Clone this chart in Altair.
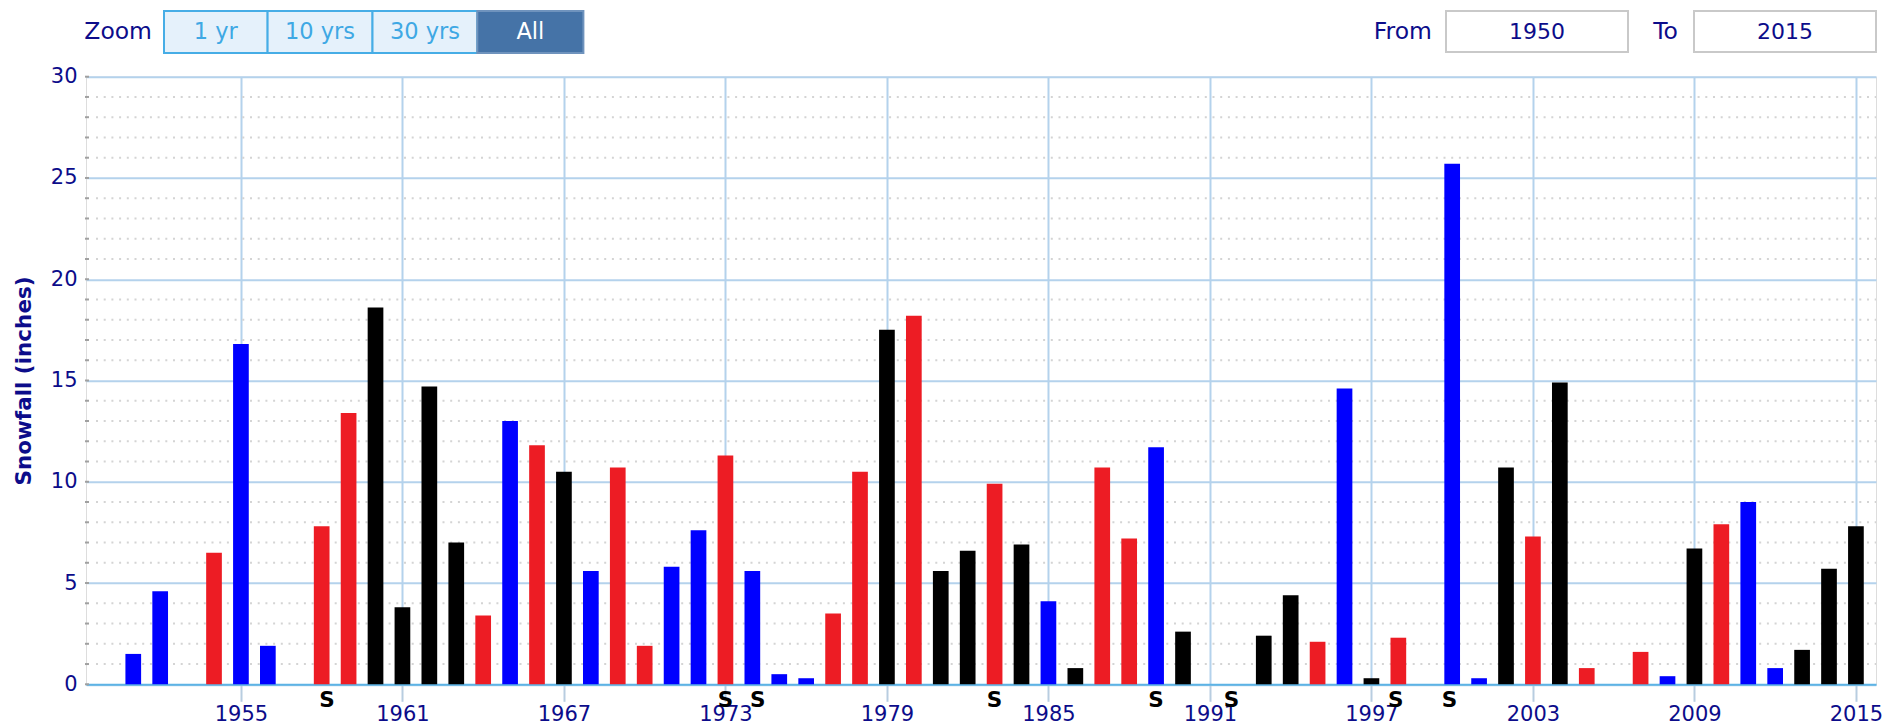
import altair as alt
import pandas as pd

# ---------------- data ----------------
years = [1951, 1952, 1954, 1955, 1956, 1958, 1959, 1960, 1961, 1962, 1963, 1964,
         1965, 1966, 1967, 1968, 1969, 1970, 1971, 1972, 1973, 1974, 1975, 1976,
         1977, 1978, 1979, 1980, 1981, 1982, 1983, 1984, 1985, 1986, 1987, 1988,
         1989, 1990, 1993, 1994, 1995, 1996, 1997, 1998, 2000, 2001, 2002, 2003,
         2004, 2005, 2007, 2008, 2009, 2010, 2011, 2012, 2013, 2014, 2015]
snowfall = [1.5, 4.6, 6.5, 16.8, 1.9, 7.8, 13.4, 18.6, 3.8, 14.7, 7.0, 3.4,
            13.0, 11.8, 10.5, 5.6, 10.7, 1.9, 5.8, 7.6, 11.3, 5.6, 0.5, 0.3,
            3.5, 10.5, 17.5, 18.2, 5.6, 6.6, 9.9, 6.9, 4.1, 0.8, 10.7, 7.2,
            11.7, 2.6, 2.4, 4.4, 2.1, 14.6, 0.3, 2.3, 25.7, 0.3, 10.7, 7.3,
            14.9, 0.8, 1.6, 0.4, 6.7, 7.9, 9.0, 0.8, 1.7, 5.7, 7.8]
phase = ["La Nina", "La Nina", "El Nino", "La Nina", "La Nina", "El Nino", "El Nino",
         "Neutral", "Neutral", "Neutral", "Neutral", "El Nino", "La Nina", "El Nino",
         "Neutral", "La Nina", "El Nino", "El Nino", "La Nina", "La Nina", "El Nino",
         "La Nina", "La Nina", "La Nina", "El Nino", "El Nino", "Neutral", "El Nino",
         "Neutral", "Neutral", "El Nino", "Neutral", "La Nina", "Neutral", "El Nino",
         "El Nino", "La Nina", "Neutral", "Neutral", "Neutral", "El Nino", "La Nina",
         "Neutral", "El Nino", "La Nina", "La Nina", "Neutral", "El Nino", "Neutral",
         "El Nino", "El Nino", "La Nina", "Neutral", "El Nino", "La Nina", "La Nina",
         "Neutral", "Neutral", "Neutral"]
s_years = [1958.2, 1973.0, 1974.2, 1983.0, 1989.0, 1991.8, 1997.9, 1999.9]
s_labels = ["S", "S", "S", "S", "S", "S", "S", "S"]

x_ticks = [1955, 1961, 1967, 1973, 1979, 1985, 1991, 1997, 2003, 2009, 2015]
y_ticks = [0, 5, 10, 15, 20, 25, 30]
y_minor = [1, 2, 3, 4, 6, 7, 8, 9, 11, 12, 13, 14, 16, 17, 18, 19,
           21, 22, 23, 24, 26, 27, 28, 29]
y_all = [0, 1, 2, 3, 4, 5, 6, 7, 8, 9, 10, 11, 12, 13, 14, 15, 16, 17, 18, 19,
         20, 21, 22, 23, 24, 25, 26, 27, 28, 29, 30]

phase_names = ["La Nina", "El Nino", "Neutral"]
phase_colors = ["#0000FF", "#ED1C24", "#000000"]

zoom_buttons = ["1 yr", "10 yrs", "30 yrs", "All"]
range_from = "1950"
range_to = "2015"

# ---------------- layout ----------------
W = 1790
H = 607.6
FONT = "DejaVu Sans"
NAVY = "#0c0c8a"
AX_FS = 21

bars_df = pd.DataFrame({"year": years, "snow": snowfall, "phase": phase})
s_df = pd.DataFrame({"year": s_years, "label": s_labels})
minor_df = pd.DataFrame({"v": y_minor})
all_df = pd.DataFrame({"v": y_all})
one = pd.DataFrame({"a": [0]})

xscale = alt.Scale(domain=[1949.43, 2015.56], nice=False, zero=False)
yscale = alt.Scale(domain=[0, 30], nice=False)

x_axis = alt.Axis(values=x_ticks, format="d", grid=True,
                  gridColor="#b4d2ec", gridWidth=2,
                  domainColor="#5db3e5", domainWidth=2,
                  tickColor="#b8cde0", tickWidth=2, tickSize=17,
                  labelPadding=2.5, labelFont=FONT, labelFontSize=AX_FS,
                  labelColor=NAVY, labelFlush=20, labelFlushOffset=20,
                  title=None)
y_axis = alt.Axis(values=y_ticks, grid=True, gridColor="#b4d2ec",
                  gridWidth=2, domain=False, ticks=False,
                  labelPadding=9, labelFont=FONT, labelFontSize=AX_FS,
                  labelColor=NAVY,
                  title="Snowfall (inches)", titleFont=FONT,
                  titleFontSize=21.5, titleFontWeight="bold",
                  titleColor=NAVY, titleAngle=270,
                  titleAlign="center", titleBaseline="middle",
                  titleX=-62, titleY=H / 2)

minor_grid = alt.Chart(minor_df).mark_rule(
    color="#d4d4d4", strokeWidth=2, strokeDash=[2, 5.7]
).encode(
    y=alt.Y("v:Q", scale=yscale, axis=y_axis),
    x=alt.value(10), x2=alt.value(W),
)

minor_ticks = alt.Chart(all_df).mark_rule(color="#a0a0a0", strokeWidth=2).encode(
    y=alt.Y("v:Q", scale=yscale, axis=y_axis),
    x=alt.value(-1), x2=alt.value(3),
)

bars = alt.Chart(bars_df).mark_bar(width=15.7).encode(
    x=alt.X("year:Q", scale=xscale, axis=x_axis),
    y=alt.Y("snow:Q", scale=yscale, axis=y_axis),
    color=alt.Color("phase:N", scale=alt.Scale(domain=phase_names, range=phase_colors),
                    legend=None),
)

s_marks = alt.Chart(s_df).mark_text(
    font=FONT, fontSize=21.5, fontWeight="bold", color="black",
    baseline="alphabetic", align="center"
).encode(
    x=alt.X("year:Q", scale=xscale, axis=x_axis),
    y=alt.value(H + 23),
    text="label:N",
)

# ---------------- range selector UI ----------------
ui = []
btn_edges = [78, 181.6, 286.5, 391.3, 497.4]
BY1, BY2 = -65.7, -23.7
TEXT_BASE = -37.4
UI_FS = 23.5
BTN_FS = 22.5
ui.append(alt.Chart(one).mark_text(font=FONT, fontSize=UI_FS, color=NAVY,
                                    align="right", baseline="alphabetic").encode(
    x=alt.value(66), y=alt.value(TEXT_BASE), text=alt.value("Zoom")))
for i, lab in enumerate(zoom_buttons):
    sel = lab == "All"
    ui.append(alt.Chart(one).mark_rect(
        fill="#4573a7" if sel else "#e5f1fb",
        stroke="#6f93bd" if sel else "#46ade6", strokeWidth=2).encode(
        x=alt.value(btn_edges[i]), x2=alt.value(btn_edges[i + 1]),
        y=alt.value(BY1), y2=alt.value(BY2)))
    ui.append(alt.Chart(one).mark_text(
        font=FONT, fontSize=BTN_FS, color="white" if sel else "#3ea8e4",
        align="center", baseline="alphabetic").encode(
        x=alt.value((btn_edges[i] + btn_edges[i + 1]) / 2),
        y=alt.value(TEXT_BASE), text=alt.value(lab)))

for lab, tx, bx1, bx2, val in [("From", 1346, 1360, 1542, range_from),
                               ("To", 1592, 1608, 1790, range_to)]:
    ui.append(alt.Chart(one).mark_text(font=FONT, fontSize=UI_FS, color=NAVY,
                                        align="right", baseline="alphabetic").encode(
        x=alt.value(tx), y=alt.value(TEXT_BASE), text=alt.value(lab)))
    ui.append(alt.Chart(one).mark_rect(fill="white", stroke="#c9c9c9", strokeWidth=2).encode(
        x=alt.value(bx1), x2=alt.value(bx2), y=alt.value(-65.7), y2=alt.value(-24.7)))
    ui.append(alt.Chart(one).mark_text(font=FONT, fontSize=22, color=NAVY,
                                        align="center", baseline="alphabetic").encode(
        x=alt.value((bx1 + bx2) / 2), y=alt.value(TEXT_BASE), text=alt.value(val)))

chart = alt.layer(minor_grid, minor_ticks, bars, s_marks, *ui).properties(
    width=W, height=H,
    padding={"left": 78, "top": 68.7, "right": 6, "bottom": 42},
    autosize=alt.AutoSizeParams(type="none"),
).configure_view(stroke=None).configure(background="white")

chart.save("out.html", embed_options={"renderer": "svg", "actions": False})
